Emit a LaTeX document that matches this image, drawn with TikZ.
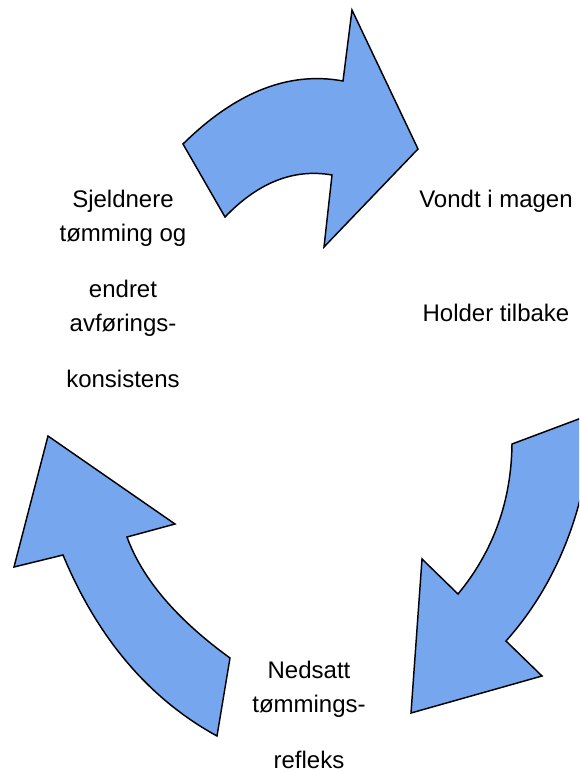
\documentclass[tikz,border=0pt]{standalone}
\usepackage{fontspec}
\setmainfont{Liberation Sans}
\definecolor{arrowblue}{RGB}{117,166,238}
\begin{document}
\begin{tikzpicture}[x=0.75pt,y=-0.75pt,
  bigarrow/.style={fill=arrowblue,draw=black,line width=1.1pt,line join=miter},
  lbl/.style={anchor=base,inner sep=0pt,font=\fontsize{18}{22}\selectfont}]
\useasboundingbox (0,0) rectangle (579,772);
\clip (0,0) rectangle (579,772);
% top arrow
\draw[bigarrow] (183,144) .. controls (235.7,92) and (289,71) .. (343,81)
  -- (352,10) -- (418,149) -- (324,247) -- (332,175)
  .. controls (294,168.3) and (258.3,182.3) .. (225,217) -- cycle;
% right arrow
\draw[bigarrow] (512,444) .. controls (511.3,501.3) and (493.3,551.3) .. (458,594)
  -- (422,559) -- (411,713) -- (542,676) -- (506,641)
  .. controls (565,575) and (590,490) .. (592,414) -- cycle;
% left arrow
\draw[bigarrow] (48,436) -- (175,524) -- (127,537)
  .. controls (142.3,579) and (176.7,619.3) .. (230,658)
  -- (217,736) .. controls (149,698.7) and (97.7,638.3) .. (63,555)
  -- (14,567) -- cycle;
% left texts
\node[lbl] (l1) at (123,207) {Sjeldnere};
\node[lbl] (l2) at (123,241) {tømming og};
\node[lbl] (l3) at (123,297) {endret};
\node[lbl] (l4) at (123,331) {avførings-};
\node[lbl] (l5) at (123,387) {konsistens};
% right texts
\node[lbl] (r1) at (496,207) {Vondt i magen};
\node[lbl] (r2) at (496,321) {Holder tilbake};
% bottom texts
\node[lbl] (b1) at (309,678) {Nedsatt};
\node[lbl] (b2) at (309,712) {tømmings-};
\node[lbl] (b3) at (309,768) {refleks};
\end{tikzpicture}
\end{document}
